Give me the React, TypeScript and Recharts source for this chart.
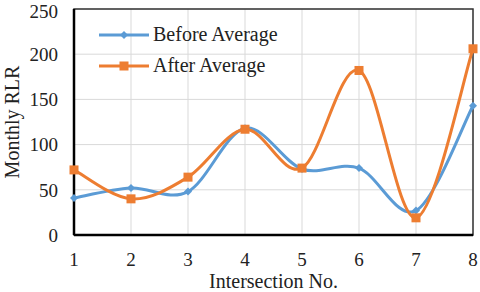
import { CartesianGrid, Legend, Line, LineChart, ReferenceArea, XAxis, YAxis } from "recharts"

const intersections = [1, 2, 3, 4, 5, 6, 7, 8]
const beforeAverage = [41, 52, 48, 118, 73, 74, 27, 143]
const afterAverage = [72, 40, 64, 117, 74, 182, 19, 206]
const yTicks = [0, 50, 100, 150, 200, 250]

const data = intersections.map((x, i) => ({ x, before: beforeAverage[i], after: afterAverage[i] }))

const BLUE = "#5B9BD5"
const ORANGE = "#ED7D31"
const FONT = "'Liberation Serif', 'Times New Roman', serif"

// smoothed line like the spreadsheet one (catmull-rom through the scaled points)
function smoothCurve(context: any) {
  let pts: number[][] = []
  return {
    areaStart() {},
    areaEnd() {},
    lineStart() {
      pts = []
    },
    point(x: number, y: number) {
      pts.push([+x, +y])
    },
    lineEnd() {
      const n = pts.length
      if (!n) return
      context.moveTo(pts[0][0], pts[0][1])
      const t = 1 / 6
      for (let i = 0; i < n - 1; i++) {
        const p0 = pts[i - 1] || pts[i]
        const p1 = pts[i]
        const p2 = pts[i + 1]
        const p3 = pts[i + 2] || p2
        context.bezierCurveTo(
          p1[0] + (p2[0] - p0[0]) * t,
          p1[1] + (p2[1] - p0[1]) * t,
          p2[0] - (p3[0] - p1[0]) * t,
          p2[1] - (p3[1] - p1[1]) * t,
          p2[0],
          p2[1]
        )
      }
    },
  }
}

const Diamond = (props: any) => {
  const { cx, cy } = props
  if (cx == null || cy == null) return null
  const r = 4
  return <path d={`M${cx},${cy - r}L${cx + r},${cy}L${cx},${cy + r}L${cx - r},${cy}Z`} fill={BLUE} />
}

const Square = (props: any) => {
  const { cx, cy } = props
  if (cx == null || cy == null) return null
  const s = 9
  return <rect x={cx - s / 2} y={cy - s / 2} width={s} height={s} fill={ORANGE} />
}

const LegendBox = () => (
  <div style={{ fontFamily: FONT, fontSize: 20, color: "#222" }}>
    {[
      { name: "Before Average", color: BLUE, kind: "d" },
      { name: "After Average", color: ORANGE, kind: "s" },
    ].map((it) => (
      <div key={it.name} style={{ display: "flex", alignItems: "center", height: 31 }}>
        <svg width={52} height={12} style={{ marginRight: 2 }}>
          <line x1={0} y1={6} x2={50} y2={6} stroke={it.color} strokeWidth={3} />
          {it.kind === "d" ? (
            <path d="M25,2L29,6L25,10L21,6Z" fill={it.color} />
          ) : (
            <rect x={20.5} y={1.5} width={9} height={9} fill={it.color} />
          )}
        </svg>
        <span>{it.name}</span>
      </div>
    ))}
  </div>
)

export default function App() {
  return (
    <div style={{ position: "absolute", left: 0, top: 0, background: "#fff" }}>
      <LineChart width={480} height={292} data={data} margin={{ top: 9, right: 7, left: 0, bottom: 0 }}>
        <CartesianGrid stroke="#d9d9d9" strokeWidth={1} />
        <ReferenceArea x1={1} x2={8} y1={0} y2={250} fill="none" stroke="#333" strokeWidth={1.5} ifOverflow="visible" />
        <XAxis
          dataKey="x"
          type="number"
          domain={[1, 8]}
          ticks={intersections}
          height={57}
          tickLine={false}
          tickSize={0}
          tickMargin={18}
          axisLine={{ stroke: "#000", strokeWidth: 2.5 }}
          tick={{ fontFamily: FONT, fontSize: 19, fill: "#222" }}
          label={{ value: "Intersection No.", position: "insideBottom", offset: 4, fontFamily: FONT, fontSize: 20, fill: "#222" }}
        />
        <YAxis
          domain={[0, 250]}
          ticks={yTicks}
          width={74}
          tickLine={false}
          tickSize={0}
          tickMargin={16}
          axisLine={{ stroke: "#000", strokeWidth: 2.5 }}
          tick={{ fontFamily: FONT, fontSize: 19, fill: "#222" }}
          label={{ value: "Monthly RLR", angle: -90, position: "insideLeft", offset: 12, fontFamily: FONT, fontSize: 20, fill: "#222", style: { textAnchor: "middle" } }}
        />
        <Legend
          layout="horizontal"
          verticalAlign="middle"
          align="center"
          content={<LegendBox />}
          wrapperStyle={{ top: 19, left: 99, width: "auto" }}
        />
        <Line
          dataKey="before"
          name="Before Average"
          type={smoothCurve as any}
          stroke={BLUE}
          strokeWidth={3}
          dot={<Diamond />}
          activeDot={false}
          isAnimationActive={false}
        />
        <Line
          dataKey="after"
          name="After Average"
          type={smoothCurve as any}
          stroke={ORANGE}
          strokeWidth={3}
          dot={<Square />}
          activeDot={false}
          isAnimationActive={false}
        />
      </LineChart>
    </div>
  )
}
